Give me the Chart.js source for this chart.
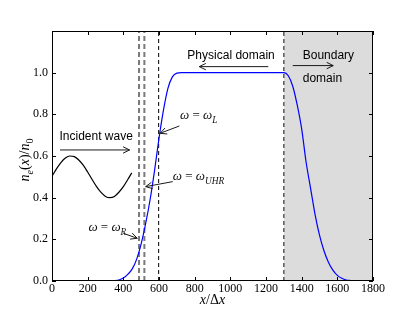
<!DOCTYPE html>
<html><head><meta charset="utf-8">
<script src="https://cdn.jsdelivr.net/npm/chart.js@4/dist/chart.umd.min.js"></script>
<style>html,body{margin:0;padding:0;background:#fff}canvas{display:block}</style>
</head><body>
<canvas id="c" width="415" height="312"></canvas>
<script>
// ---- data ----
const profileX = [0, 300, 325, 350, 375, 400, 425, 450, 475, 500, 525, 550, 575, 600, 625, 650, 675, 700, 725,
                  1300, 1325, 1350, 1375, 1400, 1425, 1450, 1475, 1500, 1525, 1550, 1575, 1600, 1625, 1650, 1675, 1700, 1800];
const profileY = [0, 0, 0.001, 0.002, 0.005, 0.014, 0.032, 0.058, 0.105, 0.178, 0.275, 0.39, 0.53, 0.685, 0.82, 0.925, 0.98, 0.998, 1.0,
                  1.0, 0.985, 0.935, 0.845, 0.73, 0.57, 0.445, 0.32, 0.22, 0.145, 0.09, 0.052, 0.027, 0.013, 0.005, 0.002, 0, 0];
const waveX = [0, 25, 50, 75, 100, 125, 150, 175, 200, 225, 250, 275, 300, 325, 350, 375, 400, 425, 447];
const waveY = [0.503, 0.538, 0.568, 0.59, 0.6, 0.597, 0.581, 0.556, 0.523, 0.487, 0.453, 0.425, 0.406, 0.4, 0.406, 0.426, 0.453, 0.487, 0.519];
const resonanceX = [488, 518, 598];
const boundaryX = 1300;
const xMin = 0, xMax = 1800, yMin = 0, yMax = 1.2;
const xTicks = [0, 200, 400, 600, 800, 1000, 1200, 1400, 1600, 1800];
const xTickLabels = ['0', '200', '400', '600', '800', '1000', '1200', '1400', '1600', '1800'];
const yTicks = [0, 0.2, 0.4, 0.6, 0.8, 1.0];
const yTickLabels = ['0.0', '0.2', '0.4', '0.6', '0.8', '1.0'];

const SERIF = '"Liberation Serif", "DejaVu Serif", serif';
const SANS = '"Liberation Sans", Arial, sans-serif';

function pts(xs, ys) { return xs.map((x, i) => ({ x: x, y: ys[i] })); }
function vline(x) { return [{ x: x, y: yMin }, { x: x, y: yMax }]; }

// draw runs of rich (math) text; y is the baseline
function drawRuns(ctx, runs, x, y, size, align) {
  const fontFor = r => `${r.it ? 'italic ' : ''}${r.sub ? size * 0.72 : size}px ${SERIF}`;
  let w = 0;
  runs.forEach(r => { ctx.font = fontFor(r); r.w = ctx.measureText(r.t).width; w += r.w; });
  let cx = align === 'center' ? x - w / 2 : x;
  ctx.textAlign = 'left';
  ctx.textBaseline = 'alphabetic';
  runs.forEach(r => {
    ctx.font = fontFor(r);
    ctx.fillText(r.t, cx, r.sub ? y + size * 0.28 : y);
    cx += r.w;
  });
}

function arrow(ctx, x1, y1, x2, y2) {
  const a = Math.atan2(y2 - y1, x2 - x1);
  const hl = 6.5, hw = 3.2;
  ctx.beginPath();
  ctx.moveTo(x1, y1); ctx.lineTo(x2, y2);
  const bx = x2 - hl * Math.cos(a), by = y2 - hl * Math.sin(a);
  ctx.moveTo(bx + hw * Math.sin(a), by - hw * Math.cos(a));
  ctx.lineTo(x2, y2);
  ctx.lineTo(bx - hw * Math.sin(a), by + hw * Math.cos(a));
  ctx.stroke();
}

const frameAndNotes = {
  id: 'frameAndNotes',
  afterDatasetsDraw(chart) {
    const ctx = chart.ctx, a = chart.chartArea;
    const xs = chart.scales.x, ys = chart.scales.y;
    const X = v => xs.getPixelForValue(v), Y = v => ys.getPixelForValue(v);
    ctx.save();
    // frame
    ctx.strokeStyle = '#000'; ctx.lineWidth = 1;
    ctx.strokeRect(a.left + 0.5, a.top + 0.5, a.right - a.left - 1, a.bottom - a.top - 1);
    // inward ticks on all sides
    const tl = 4;
    ctx.beginPath();
    xTicks.forEach(v => {
      const px = Math.round(X(v)) + 0.5;
      ctx.moveTo(px, a.bottom); ctx.lineTo(px, a.bottom - tl);
      ctx.moveTo(px, a.top); ctx.lineTo(px, a.top + tl);
    });
    yTicks.forEach(v => {
      const py = Math.round(Y(v)) + 0.5;
      ctx.moveTo(a.left, py); ctx.lineTo(a.left + tl, py);
      ctx.moveTo(a.right, py); ctx.lineTo(a.right - tl, py);
    });
    ctx.stroke();

    // annotations
    ctx.fillStyle = '#000'; ctx.strokeStyle = '#1a1a1a'; ctx.lineWidth = 1;
    ctx.font = `12px ${SANS}`;
    ctx.textBaseline = 'middle';
    ctx.textAlign = 'left';
    ctx.fillText('Incident wave', X(42), Y(0.694));
    arrow(ctx, X(45), Y(0.629), X(435), Y(0.629));
    ctx.textAlign = 'center';
    ctx.fillText('Physical domain', X(1004), Y(1.080));
    arrow(ctx, X(1213), Y(1.029), X(826), Y(1.029));
    ctx.textAlign = 'left';
    ctx.fillText('Boundary', X(1406), Y(1.081));
    ctx.fillText('domain', X(1406), Y(0.973));
    arrow(ctx, X(1350), Y(1.034), X(1577), Y(1.034));

    // math labels
    ctx.fillStyle = '#111';
    drawRuns(ctx, [{ t: 'ω', it: true }, { t: ' = ' }, { t: 'ω', it: true }, { t: 'L', it: true, sub: true }], X(718), Y(0.797) + 4, 13);
    arrow(ctx, X(714), Y(0.744), X(606), Y(0.709));
    drawRuns(ctx, [{ t: 'ω', it: true }, { t: ' = ' }, { t: 'ω', it: true }, { t: 'UHR', it: true, sub: true }], X(677), Y(0.504) + 4, 13);
    arrow(ctx, X(677), Y(0.477), X(525), Y(0.453));
    drawRuns(ctx, [{ t: 'ω', it: true }, { t: ' = ' }, { t: 'ω', it: true }, { t: 'R', it: true, sub: true }], X(204), Y(0.258) + 4, 13);
    arrow(ctx, X(400), Y(0.229), X(478), Y(0.205));

    // axis titles
    ctx.fillStyle = '#000';
    drawRuns(ctx, [{ t: 'x', it: true }, { t: '/Δ' }, { t: 'x', it: true }], (a.left + a.right) / 2, 304, 14, 'center');
    ctx.save();
    ctx.translate(29, (a.top + a.bottom) / 2 + 4);
    ctx.rotate(-Math.PI / 2);
    drawRuns(ctx, [{ t: 'n', it: true }, { t: 'e', it: true, sub: true }, { t: '(' }, { t: 'x', it: true }, { t: ')/' }, { t: 'n', it: true }, { t: '0', sub: true }], 0, 0, 14, 'center');
    ctx.restore();
    ctx.restore();
  }
};

new Chart(document.getElementById('c'), {
  type: 'line',
  data: {
    datasets: [
      { label: 'boundary domain', data: [{ x: boundaryX, y: yMax }, { x: xMax, y: yMax }], fill: 'origin',
        backgroundColor: '#dcdcdc', borderWidth: 0, pointRadius: 0, order: 10 },
      { label: 'density', data: pts(profileX, profileY), borderColor: '#0000ff', borderWidth: 1.2,
        pointRadius: 0, cubicInterpolationMode: 'monotone', fill: false, order: 1 },
      { label: 'incident wave', data: pts(waveX, waveY), borderColor: '#000', borderWidth: 1.2,
        pointRadius: 0, cubicInterpolationMode: 'monotone', fill: false, order: 1 },
      { label: 'ωR', data: vline(resonanceX[0]), borderColor: '#7a7a7a', borderWidth: 2, borderDash: [5, 3], pointRadius: 0, order: 2 },
      { label: 'ωUHR', data: vline(resonanceX[1]), borderColor: '#7a7a7a', borderWidth: 2, borderDash: [5, 3], pointRadius: 0, order: 2 },
      { label: 'ωL', data: vline(resonanceX[2]), borderColor: '#000', borderWidth: 1, borderDash: [4, 3], pointRadius: 0, order: 2 },
      { label: 'boundary', data: vline(boundaryX), borderColor: '#333', borderWidth: 1.2, borderDash: [4, 3], pointRadius: 0, order: 2 }
    ]
  },
  options: {
    responsive: false, animation: false, devicePixelRatio: 1,
    layout: { padding: { left: 0, right: 42, top: 31, bottom: 0 } },
    plugins: { legend: { display: false }, tooltip: { enabled: false }, title: { display: false } },
    scales: {
      x: {
        type: 'linear', min: xMin, max: xMax,
        afterBuildTicks: s => { s.ticks = xTicks.map(v => ({ value: v })); },
        afterFit: s => { s.height = 31; },
        ticks: { callback: (v, i) => xTickLabels[i], font: { family: SERIF, size: 12 }, color: '#000', padding: 1, maxRotation: 0, autoSkip: false },
        grid: { display: false, drawTicks: false }, border: { display: false }
      },
      y: {
        type: 'linear', min: yMin, max: yMax,
        afterBuildTicks: s => { s.ticks = yTicks.map(v => ({ value: v })); },
        afterFit: s => { s.width = 52; },
        ticks: { callback: (v, i) => yTickLabels[i], font: { family: SERIF, size: 12 }, color: '#000', padding: 4, autoSkip: false },
        grid: { display: false, drawTicks: false }, border: { display: false }
      }
    }
  },
  plugins: [frameAndNotes]
});
</script>
</body></html>
